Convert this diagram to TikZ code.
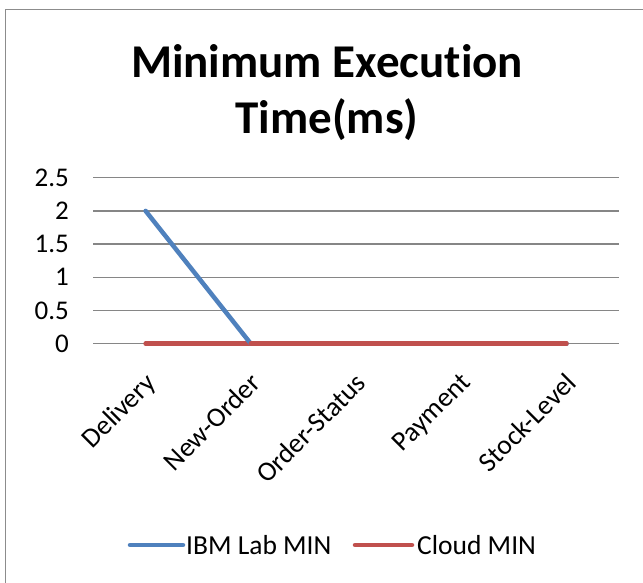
\documentclass[tikz,border=0pt]{standalone}
\usepackage{fontspec}
\setmainfont[Ligatures={NoCommon}]{Carlito}
\definecolor{ibmblue}{HTML}{4F81BD}
\definecolor{cloudred}{HTML}{C0504D}
\definecolor{gridgray}{HTML}{868686}
\definecolor{framegray}{HTML}{8C8C8C}
\begin{document}
\begin{tikzpicture}[x=1pt,y=-1pt,
  grid/.style={draw=gridgray,line width=1.3pt},
  series/.style={line width=4.5pt,line cap=round,line join=round},
  ylab/.style={anchor=east,inner sep=0pt,font=\fontsize{27}{27}\selectfont},
  xlab/.style={anchor=north east,inner sep=0pt,rotate=45,font=\fontsize{27.5}{27.5}\selectfont},
  legtext/.style={anchor=base west,inner sep=0pt,font=\fontsize{27.5}{27.5}\selectfont},
  titletext/.style={anchor=base,inner sep=0pt,font=\fontsize{47}{47}\selectfont\bfseries}]
\useasboundingbox (0,0) rectangle (643,583);
\fill[white] (0,0) rectangle (643,583);
% chart frame (runs past the right and bottom edges)
\draw[framegray,line width=1.5pt] (5.5,590) -- (5.5,9.5) -- (660,9.5);

% title
\node[titletext] (t1) at (327,78) {Minimum Execution};
\node[titletext] (t2) at (327,134) {Time(ms)};

% horizontal gridlines and value labels
\foreach \v/\lab [count=\i] in {0/0,0.5/0.5,1/1,1.5/1.5,2/2,2.5/2.5}{
  \coordinate (gl\i) at (93,{343.7-\v*66.4});
  \coordinate (gr\i) at (619,{343.7-\v*66.4});
  \draw[grid] (gl\i) -- (gr\i);
  \node[ylab] (yl\i) at (69,{343.7-\v*66.4}) {\lab};
}

% category positions on the zero line
\foreach \name [count=\i from 0] in {Delivery,New-Order,Order-Status,Payment,Stock-Level}{
  \coordinate (c\i) at ({145.6+105.2*\i},343.7);
  \node[xlab] (xl\i) at ({143.6+105.2*\i},371) {\name};
}

% data series
\coordinate (b0) at (145.6,{343.7-2*66.4});
\draw[series,cloudred] (c0) -- (c1) -- (c2) -- (c3) -- (c4);
\draw[series,ibmblue] (b0) -- (c1) -- (c2) -- (c3) -- (c4);
\draw[series,cloudred] (c1) -- (c4);

% legend
\coordinate (l1a) at (130,545);
\coordinate (l1b) at (183,545);
\coordinate (l2a) at (355,545);
\coordinate (l2b) at (412,545);
\draw[series,ibmblue] (l1a) -- (l1b);
\node[legtext] (lt1) at (186,554) {IBM Lab MIN};
\draw[series,cloudred] (l2a) -- (l2b);
\node[legtext] (lt2) at (417,554) {Cloud MIN};
\end{tikzpicture}
\end{document}
